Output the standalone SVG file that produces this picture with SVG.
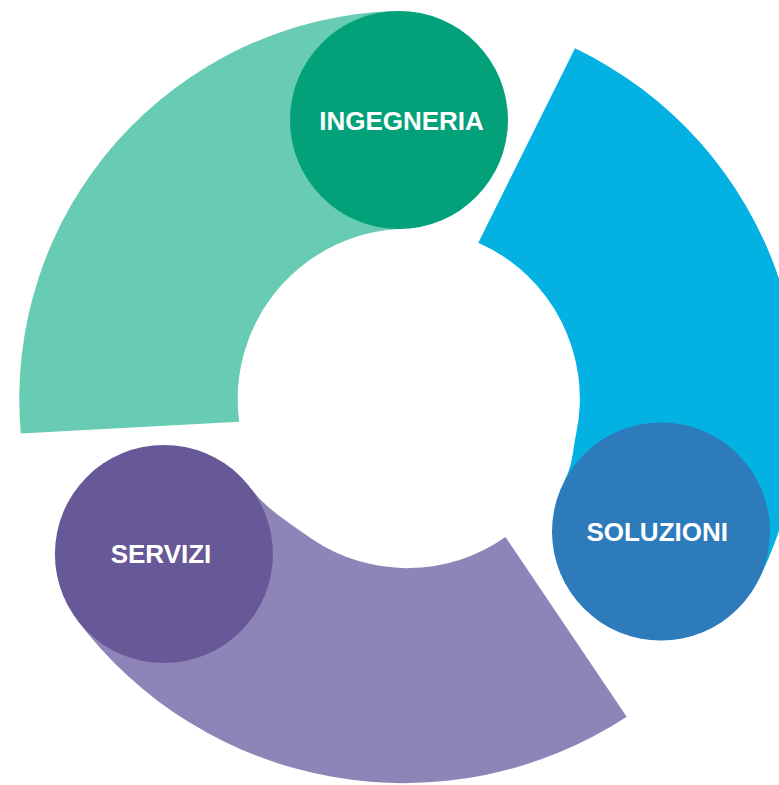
<svg xmlns="http://www.w3.org/2000/svg" width="779" height="785" viewBox="0 0 779 785">
  <style>
    .lbl { font-family: "Liberation Sans", Arial, sans-serif; font-weight: bold; font-size: 26px; fill: #ffffff; text-anchor: middle; }
  </style>
  <rect width="779" height="785" fill="#ffffff"/>
  <g id="ring">
    <path id="seg-green" fill="#68CBB3" d="M 239.2 421.7 L 20.8 433.5 A 388 388 0 0 1 395.1 11.1 L 399 120 L 404.5 228.8 A 170.4 170.4 0 0 0 239.2 421.7 Z"/>
    <path id="seg-blue" fill="#03B2E2" d="M 478.3 242.7 L 575 48.3 A 395 395 0 0 1 758.7 579.8 L 661 531.5 L 564.5 480.8 C 572.9 464.9 572.3 452.1 576 434.5 A 170.4 170.4 0 0 0 478.3 242.7 Z"/>
    <path id="seg-purple" fill="#8E84B7" d="M 505.5 537 L 626.7 716.7 A 408 408 0 0 1 76.4 619 L 163.9 554 L 251.5 489.1 C 266.4 509.2 291.1 524.4 311.6 538.7 A 170.4 170.4 0 0 0 505.5 537 Z"/>
  </g>
  <g id="connectors"></g>
  <g id="node-ingegneria">
    <circle cx="399" cy="120" r="109" fill="#03A17A"/>
    <text class="lbl" x="401.5" y="130">INGEGNERIA</text>
  </g>
  <g id="node-soluzioni">
    <circle cx="661" cy="531.5" r="109" fill="#2D7BBA"/>
    <text class="lbl" x="657.2" y="541">SOLUZIONI</text>
  </g>
  <g id="node-servizi">
    <circle cx="163.9" cy="554" r="109" fill="#675898"/>
    <text class="lbl" x="161" y="563">SERVIZI</text>
  </g>
</svg>
